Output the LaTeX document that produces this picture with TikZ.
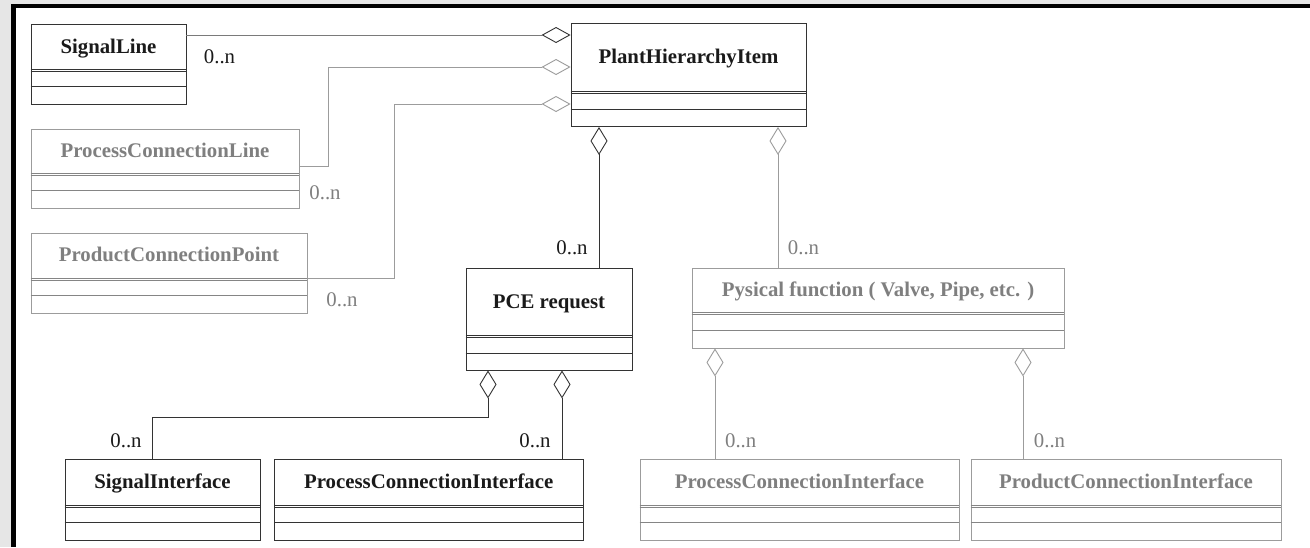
\documentclass[tikz,border=0pt]{standalone}
\usepackage{fontspec}
\setmainfont{Liberation Serif}
\usepackage{xcolor}
\usepackage{tikz}
\usetikzlibrary{arrows.meta}

\definecolor{umldark}{HTML}{333333}
\definecolor{umltext}{HTML}{1A1A1A}
\definecolor{umlgray}{HTML}{9C9C9C}
\definecolor{gtext}{HTML}{7F7F7F}
\definecolor{midline}{HTML}{7A7A7A}
\definecolor{bggray}{HTML}{E6E6E6}

% node, double line y, single line y
\newcommand{\compart}[3]{%
  \draw (#1.west |- 0,#2) -- (#1.east |- 0,#2)
        (#1.west |- 0,#2+2) -- (#1.east |- 0,#2+2)
        (#1.west |- 0,#3) -- (#1.east |- 0,#3);}

\begin{document}
\begin{tikzpicture}[x=1pt, y=-1pt,
    cls/.style={draw=umldark, line width=0.9pt, inner sep=0, fill=white},
    gcls/.style={cls, draw=umlgray},
    clsname/.style={font=\fontsize{20.8pt}{24pt}\selectfont\bfseries, text=umltext,
      text height=13.8pt, text depth=0pt, inner sep=0},
    gclsname/.style={clsname, text=gtext},
    mlabel/.style={font=\fontsize{20.8pt}{24pt}\selectfont, text=umltext,
      text height=13.8pt, text depth=0pt, inner sep=0},
    gmlabel/.style={mlabel, text=gtext},
    link/.style={draw=umldark, line width=0.9pt},
    glink/.style={draw=umlgray, line width=0.9pt},
    hdia/.style={-{Diamond[open, length=29pt, width=16pt]}},
    vdia/.style={-{Diamond[open, length=28pt, width=17pt]}}]
    \useasboundingbox (0,0) rectangle (1310,547);
    \fill[bggray] (0,0) rectangle (1310,547);
    \fill[black] (11,4) rectangle (1310,547);
    \fill[white] (16,8) rectangle (1310,547);

    % classes
    \node[cls, minimum width=155, minimum height=80] (sigline) at (108.5,64) {};
    \node[cls, minimum width=235, minimum height=103] (phi) at (688.5,75) {};
    \node[gcls, minimum width=268, minimum height=79] (pcline) at (165,168.5) {};
    \node[gcls, minimum width=276, minimum height=80] (pcpoint) at (169,273) {};
    \node[cls, minimum width=166, minimum height=102] (pce) at (549,319) {};
    \node[gcls, minimum width=372, minimum height=80] (pf) at (878,308) {};
    \node[cls, minimum width=195, minimum height=81] (sigif) at (162.5,499.5) {};
    \node[cls, minimum width=308.5, minimum height=81] (pci) at (428.75,499.5) {};
    \node[gcls, minimum width=319, minimum height=81] (gpci) at (799.5,499.5) {};
    \node[gcls, minimum width=310, minimum height=81] (prodci) at (1126,499.5) {};

    \node[clsname] (sigline-t) at (sigline.center |- 0,46.5) {SignalLine};
    \node[clsname] (phi-t) at (phi.center |- 0,57) {PlantHierarchyItem};
    \node[gclsname] (pcline-t) at (pcline.center |- 0,151) {ProcessConnectionLine};
    \node[gclsname] (pcpoint-t) at (pcpoint.center |- 0,255) {ProductConnectionPoint};
    \node[clsname] (pce-t) at (pce.center |- 0,301.7) {PCE request};
    \node[gclsname] (pf-t) at (pf.center |- 0,290) {Pysical function ( Valve, Pipe, etc. )};
    \node[clsname] (sigif-t) at (sigif.center |- 0,482) {SignalInterface};
    \node[clsname] (pci-t) at (pci.center |- 0,482) {ProcessConnectionInterface};
    \node[gclsname] (gpci-t) at (gpci.center |- 0,482) {ProcessConnectionInterface};
    \node[gclsname] (prodci-t) at (prodci.center |- 0,482) {ProductConnectionInterface};

    \begin{scope}[line width=0.9pt, draw=umldark]
      \compart{sigline}{69}{86}
      \compart{phi}{91}{109}
      \compart{pce}{335.7}{353.3}
      \compart{sigif}{505}{522}
      \compart{pci}{505}{522}
    \end{scope}
    \begin{scope}[line width=0.9pt, draw=umlgray!85!black]
      \compart{pcline}{173}{190.7}
      \compart{pcpoint}{278}{295.7}
      \compart{pf}{312.7}{330}
      \compart{gpci}{505}{522}
      \compart{prodci}{505}{522}
    \end{scope}

    % aggregations
    \draw[link, draw=midline, -{Diamond[open, length=29pt, width=16pt, color=umldark]}]
      (sigline.east |- 0,35) -- (phi.west |- 0,35);
    \draw[glink, hdia] (pcline.east |- 0,166) -- (328,166) |- (phi.west |- 0,67);
    \draw[glink, hdia] (pcpoint.east |- 0,278) -- (394,278) |- (phi.west |- 0,104);
    \draw[link, vdia] (pce.north -| 599,0) -- (phi.south -| 599,0);
    \draw[glink, vdia] (pf.north -| 778,0) -- (phi.south -| 778,0);
    \draw[link, vdia] (sigif.north -| 152,0) |- (488,417) -- (pce.south -| 488,0);
    \draw[link, vdia] (pci.north -| 562,0) -- (pce.south -| 562,0);
    \draw[glink, vdia] (gpci.north -| 715,0) -- (pf.south -| 715,0);
    \draw[glink, vdia] (prodci.north -| 1023,0) -- (pf.south -| 1023,0);

    % multiplicities
    \node[mlabel] (m1) at (219.5,56.7) {0..n};
    \node[gmlabel] (m2) at (325,193) {0..n};
    \node[gmlabel] (m3) at (342,300) {0..n};
    \node[mlabel] (m4) at (572,247.5) {0..n};
    \node[gmlabel] (m5) at (803.5,247.5) {0..n};
    \node[mlabel] (m6) at (126,441) {0..n};
    \node[mlabel] (m7) at (535,441) {0..n};
    \node[gmlabel] (m8) at (740.7,441) {0..n};
    \node[gmlabel] (m9) at (1049.5,441) {0..n};
  \end{tikzpicture}
\end{document}
